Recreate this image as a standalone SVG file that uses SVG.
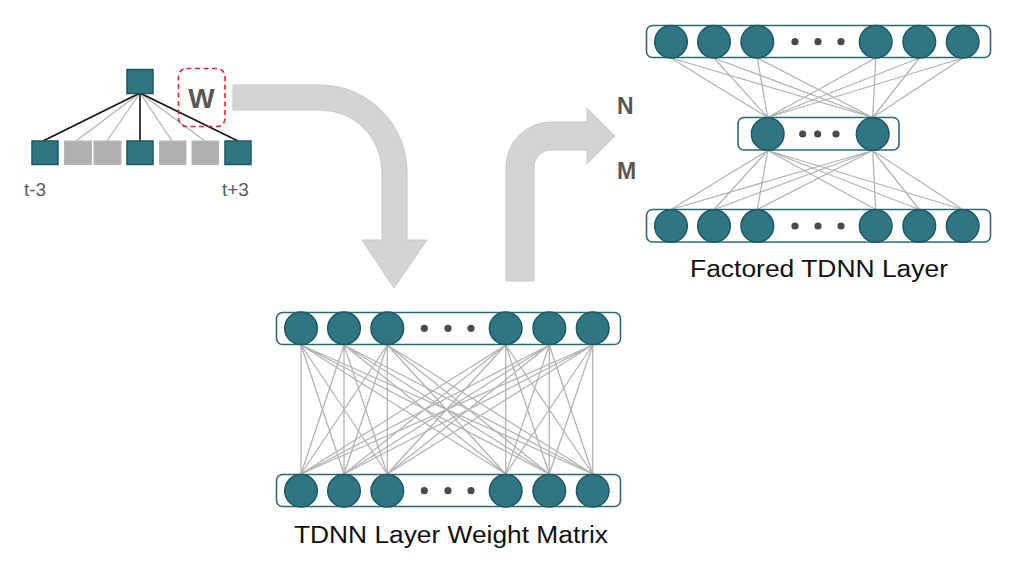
<svg xmlns="http://www.w3.org/2000/svg" width="1026" height="562" viewBox="0 0 1026 562">
<style>
.bg{fill:#ffffff}
.arrow{fill:#d4d4d4;stroke:#c8c8c8;stroke-width:1}
.n{fill:#307682;stroke:#1c5862;stroke-width:1.5}
.box{fill:#ffffff;stroke:#2a6973;stroke-width:1.6}
.dot{fill:#4a4a4a}
.gsq{fill:#b0b0b0;stroke:#b8b8b8;stroke-width:1}
.w{stroke:#b3b3b3;stroke-width:1.3;fill:none}
.k{stroke:#111111;stroke-width:1.6;fill:none}
.lbl{font-family:"Liberation Sans",Arial,sans-serif;fill:#5a5a5a}
.bold{font-family:"Liberation Sans",Arial,sans-serif;font-weight:bold;fill:#575757}
.cap{font-family:"Liberation Sans",Arial,sans-serif;fill:#111111;font-size:23px}
</style>
<rect class="bg" x="0" y="0" width="1026" height="562"/>

<g id="arrows">
<path class="arrow" d="M233,85 L320,85 A87,87 0 0 1 407,172 L407,240 L427,240 L394,288 L362,240 L382,240 L382,172 A62,62 0 0 0 320,110 L233,110 Z"/>
<path class="arrow" d="M506,281 L506,167 A45,45 0 0 1 551,122 L587,122 L587,108 L615,136 L587,164 L587,150 L551,150 A17,17 0 0 0 534,167 L534,281 Z"/>
</g>

<g id="connectors">
<!-- tree -->
<line class="w" x1="140" y1="93" x2="76" y2="141"/>
<line class="w" x1="140" y1="93" x2="107" y2="141"/>
<line class="w" x1="140" y1="93" x2="172" y2="141"/>
<line class="w" x1="140" y1="93" x2="205" y2="141"/>
<line class="k" x1="140" y1="93" x2="43" y2="141"/>
<line class="k" x1="140" y1="93" x2="140" y2="141"/>
<line class="k" x1="140" y1="93" x2="238" y2="141"/>
<!-- weight matrix -->
<g class="w">
<path d="M301,345 L301,474 M301,345 L344,474 M301,345 L387.3,474 M301,345 L505.7,474 M301,345 L549.3,474 M301,345 L592.7,474"/>
<path d="M344,345 L301,474 M344,345 L344,474 M344,345 L387.3,474 M344,345 L505.7,474 M344,345 L549.3,474 M344,345 L592.7,474"/>
<path d="M387.3,345 L301,474 M387.3,345 L344,474 M387.3,345 L387.3,474 M387.3,345 L505.7,474 M387.3,345 L549.3,474 M387.3,345 L592.7,474"/>
<path d="M505.7,345 L301,474 M505.7,345 L344,474 M505.7,345 L387.3,474 M505.7,345 L505.7,474 M505.7,345 L549.3,474 M505.7,345 L592.7,474"/>
<path d="M549.3,345 L301,474 M549.3,345 L344,474 M549.3,345 L387.3,474 M549.3,345 L505.7,474 M549.3,345 L549.3,474 M549.3,345 L592.7,474"/>
<path d="M592.7,345 L301,474 M592.7,345 L344,474 M592.7,345 L387.3,474 M592.7,345 L505.7,474 M592.7,345 L549.3,474 M592.7,345 L592.7,474"/>
</g>
<!-- factored -->
<g class="w">
<path d="M671,58 L767.7,117.5 M714,58 L767.7,117.5 M757.3,58 L767.7,117.5 M875.7,58 L767.7,117.5 M919.3,58 L767.7,117.5 M962.7,58 L767.7,117.5"/>
<path d="M671,58 L872.7,117.5 M714,58 L872.7,117.5 M757.3,58 L872.7,117.5 M875.7,58 L872.7,117.5 M919.3,58 L872.7,117.5 M962.7,58 L872.7,117.5"/>
<path d="M767.7,150.5 L671,209.5 M767.7,150.5 L714,209.5 M767.7,150.5 L757.3,209.5 M767.7,150.5 L875.7,209.5 M767.7,150.5 L919.3,209.5 M767.7,150.5 L962.7,209.5"/>
<path d="M872.7,150.5 L671,209.5 M872.7,150.5 L714,209.5 M872.7,150.5 L757.3,209.5 M872.7,150.5 L875.7,209.5 M872.7,150.5 L919.3,209.5 M872.7,150.5 L962.7,209.5"/>
</g>
</g>

<g id="tree">
<rect class="n" x="127" y="69.5" width="26" height="24"/>
<rect class="n" x="32" y="141" width="26" height="23.5"/>
<rect class="gsq" x="64.5" y="141" width="27" height="23.5"/>
<rect class="gsq" x="94" y="141" width="27" height="23.5"/>
<rect class="n" x="127" y="141" width="26" height="23.5"/>
<rect class="gsq" x="159.5" y="141" width="26.5" height="23.5"/>
<rect class="gsq" x="192" y="141" width="26.5" height="23.5"/>
<rect class="n" x="225" y="141" width="26" height="23.5"/>
<text class="lbl" x="24" y="195.5" font-size="19">t-3</text>
<text class="lbl" x="222" y="195.5" font-size="19">t+3</text>
</g>

<g id="w-box">
<rect x="178.5" y="68.5" width="46.5" height="58" rx="8" fill="none" stroke="#e0262f" stroke-width="1.6" stroke-dasharray="5,3.5"/>
<text class="bold" x="201.5" y="108.3" font-size="28" text-anchor="middle">W</text>
</g>

<g id="nm-labels">
<text class="bold" x="617" y="113.5" font-size="23">N</text>
<text class="bold" x="617" y="178.5" font-size="23">M</text>
</g>

<g id="matrix-top">
<rect class="box" x="276.5" y="312.5" width="344" height="32" rx="6"/>
<circle class="n" cx="301" cy="328.3" r="16.3"/>
<circle class="n" cx="344" cy="328.3" r="16.3"/>
<circle class="n" cx="387.3" cy="328.3" r="16.3"/>
<circle class="dot" cx="424.3" cy="328.3" r="3.6"/>
<circle class="dot" cx="448" cy="328.3" r="3.6"/>
<circle class="dot" cx="471" cy="328.3" r="3.6"/>
<circle class="n" cx="505.7" cy="328.3" r="16.3"/>
<circle class="n" cx="549.3" cy="328.3" r="16.3"/>
<circle class="n" cx="592.7" cy="328.3" r="16.3"/>
</g>

<g id="matrix-bottom">
<rect class="box" x="276.5" y="474.5" width="344" height="32" rx="6"/>
<circle class="n" cx="301" cy="490.7" r="16.3"/>
<circle class="n" cx="344" cy="490.7" r="16.3"/>
<circle class="n" cx="387.3" cy="490.7" r="16.3"/>
<circle class="dot" cx="424.3" cy="490.7" r="3.6"/>
<circle class="dot" cx="448" cy="490.7" r="3.6"/>
<circle class="dot" cx="471" cy="490.7" r="3.6"/>
<circle class="n" cx="505.7" cy="490.7" r="16.3"/>
<circle class="n" cx="549.3" cy="490.7" r="16.3"/>
<circle class="n" cx="592.7" cy="490.7" r="16.3"/>
<text class="cap" x="294" y="543.3" textLength="314" lengthAdjust="spacingAndGlyphs">TDNN Layer Weight Matrix</text>
</g>

<g id="factored-top">
<rect class="box" x="646.5" y="25.5" width="344" height="32" rx="6"/>
<circle class="n" cx="671" cy="41.7" r="16.3"/>
<circle class="n" cx="714" cy="41.7" r="16.3"/>
<circle class="n" cx="757.3" cy="41.7" r="16.3"/>
<circle class="dot" cx="795" cy="41.7" r="3.6"/>
<circle class="dot" cx="818" cy="41.7" r="3.6"/>
<circle class="dot" cx="841" cy="41.7" r="3.6"/>
<circle class="n" cx="875.7" cy="41.7" r="16.3"/>
<circle class="n" cx="919.3" cy="41.7" r="16.3"/>
<circle class="n" cx="962.7" cy="41.7" r="16.3"/>
</g>

<g id="factored-middle">
<rect class="box" x="738" y="117.5" width="161" height="32.5" rx="6"/>
<circle class="n" cx="767.7" cy="134" r="16.3"/>
<circle class="dot" cx="802.7" cy="134" r="3.6"/>
<circle class="dot" cx="817.7" cy="134" r="3.6"/>
<circle class="dot" cx="836" cy="134" r="3.6"/>
<circle class="n" cx="872.7" cy="134" r="16.3"/>
</g>

<g id="factored-bottom">
<rect class="box" x="646.5" y="209.5" width="344" height="32.5" rx="6"/>
<circle class="n" cx="671" cy="226" r="16.3"/>
<circle class="n" cx="714" cy="226" r="16.3"/>
<circle class="n" cx="757.3" cy="226" r="16.3"/>
<circle class="dot" cx="795" cy="226" r="3.6"/>
<circle class="dot" cx="818" cy="226" r="3.6"/>
<circle class="dot" cx="841" cy="226" r="3.6"/>
<circle class="n" cx="875.7" cy="226" r="16.3"/>
<circle class="n" cx="919.3" cy="226" r="16.3"/>
<circle class="n" cx="962.7" cy="226" r="16.3"/>
<text class="cap" x="690" y="276.7" textLength="258" lengthAdjust="spacingAndGlyphs">Factored TDNN Layer</text>
</g>
</svg>
